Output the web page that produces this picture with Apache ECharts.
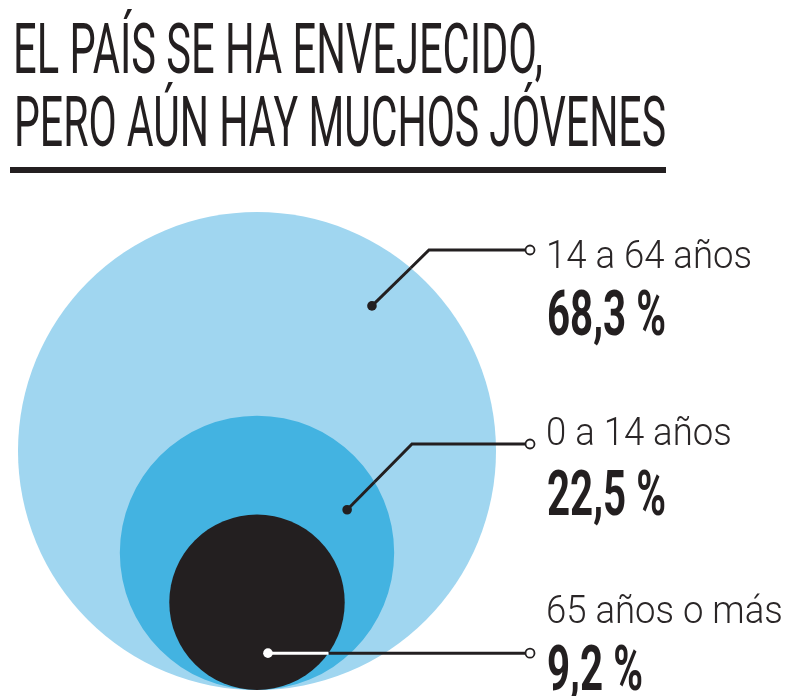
<!DOCTYPE html>
<html>
<head>
<meta charset="utf-8">
<script src="https://cdn.jsdelivr.net/npm/echarts@6/dist/echarts.min.js"></script>
<style>
  html, body { margin: 0; padding: 0; background: #ffffff; }
  #chart { width: 795px; height: 696px; }
</style>
</head>
<body>
<div id="chart"></div>
<script>
// Population share by age group (percent). Circle areas are proportional to the share.
const categories = ['14 a 64 años', '0 a 14 años', '65 años o más'];
const shares = [68.3, 22.5, 9.2];
const titleLines = ['EL PAÍS SE HA ENVEJECIDO,', 'PERO AÚN HAY MUCHOS JÓVENES'];

// ---- styling / layout ----
const INK = '#231f20';
const fills = ['#a0d6f0', '#43b3e1', '#231f20'];
const leaderInner = [INK, INK, '#ffffff'];   // leader colour inside its own circle
const PX_PER_UNIT = 28.92;                   // pixels per sqrt-percent unit
const CENTER_X = 257, BASE_Y = 690;          // circles share a common bottom
const HALF_SPAN = 8.5;
// dot position inside each circle, as a fraction of its radius (x right, y up)
const dotFrac = [[0.481, 0.607], [0.657, 0.314], [0.125, -0.58]];
const elbows = [[429, 250], [412, 444], null];
const LEADER_END_X = 530;
const LABEL_X = 546;
const nameBaseline = [268, 445, 623];
const valueBaseline = [335, 515, 690];

const formatShare = v => v.toFixed(1).replace('.', ',') + ' %';

// text measuring helpers
const mctx = document.createElement('canvas').getContext('2d');
function textWidth(t, font) { mctx.font = font; return mctx.measureText(t).width; }
function midToBaseline(font) {
  mctx.font = font;
  mctx.textBaseline = 'alphabetic';
  const a = mctx.measureText('H').actualBoundingBoxAscent;
  mctx.textBaseline = 'middle';
  const b = mctx.measureText('H').actualBoundingBoxAscent;
  mctx.textBaseline = 'alphabetic';
  return a - b;
}
function textEl(text, font, size, x, baseline, scaleX, fill) {
  return {
    type: 'text', x: x, y: baseline - midToBaseline(font), scaleX: scaleX,
    style: { text: text, font: font, fill: fill, align: 'left', verticalAlign: 'middle', lineHeight: size }
  };
}

// fonts
const TITLE_SIZE = 70;
const TITLE_FONT = '400 ' + TITLE_SIZE + 'px Roboto';
const NAME_SIZE = 39;
const NAME_FONT = '300 ' + NAME_SIZE + 'px Roboto';
const VALUE_SIZE = 63;
const VALUE_FONT = '700 ' + VALUE_SIZE + 'px Roboto';
// [left, baseline, width] of each title line
const titleTargets = [[13, 73, 530], [14, 146, 652]];
const nameScale = 206 / textWidth(categories[0], NAME_FONT);
const valueScale = 119 / textWidth(formatShare(shares[0]), VALUE_FONT);

function splitAtCircle(pts, cx, cy, r) {
  for (let i = 0; i < pts.length - 1; i++) {
    const p0 = pts[i], p1 = pts[i + 1];
    const d0 = Math.hypot(p0[0] - cx, p0[1] - cy), d1 = Math.hypot(p1[0] - cx, p1[1] - cy);
    if (d0 <= r && d1 > r) {
      const dx = p1[0] - p0[0], dy = p1[1] - p0[1];
      const fx = p0[0] - cx, fy = p0[1] - cy;
      const A = dx * dx + dy * dy, B = 2 * (fx * dx + fy * dy), C = fx * fx + fy * fy - r * r;
      const t = (-B + Math.sqrt(B * B - 4 * A * C)) / (2 * A);
      const q = [p0[0] + t * dx, p0[1] + t * dy];
      return [pts.slice(0, i + 1).concat([q]), [q].concat(pts.slice(i + 1))];
    }
  }
  return [pts, []];
}

const chart = echarts.init(document.getElementById('chart'), null, { renderer: 'canvas' });
const seriesData = shares.map((v, i) => [i, v]);

const option = {
  animation: false,
  backgroundColor: '#ffffff',
  grid: {
    left: CENTER_X - HALF_SPAN * PX_PER_UNIT,
    width: 2 * HALF_SPAN * PX_PER_UNIT,
    top: BASE_Y - 2 * HALF_SPAN * PX_PER_UNIT,
    height: 2 * HALF_SPAN * PX_PER_UNIT
  },
  xAxis: { type: 'value', min: -HALF_SPAN, max: HALF_SPAN, show: false },
  yAxis: { type: 'value', min: 0, max: 2 * HALF_SPAN, show: false },
  graphic: [
    ...titleLines.map((t, i) => {
      const [x, base, w] = titleTargets[i];
      return textEl(t, TITLE_FONT, TITLE_SIZE, x, base, w / textWidth(t, TITLE_FONT), INK);
    }),
    { type: 'rect', shape: { x: 10, y: 167, width: 656, height: 6 }, style: { fill: INK } }
  ],
  series: [
    {
      // nested circles, largest first
      type: 'custom',
      clip: false,
      z: 2,
      data: seriesData,
      renderItem: function (params, api) {
        const rd = Math.sqrt(api.value(1));
        const c = api.coord([0, rd]);
        const r = api.size([rd, rd])[0];
        return { type: 'circle', shape: { cx: c[0], cy: c[1], r: r }, style: { fill: fills[params.dataIndex] } };
      }
    },
    {
      // leader lines and labels
      type: 'custom',
      clip: false,
      z: 3,
      data: seriesData,
      renderItem: function (params, api) {
        const i = params.dataIndex;
        const v = api.value(1);
        const rd = Math.sqrt(v);
        const c = api.coord([0, rd]);
        const r = api.size([rd, rd])[0];
        const dot = api.coord([dotFrac[i][0] * rd, rd + dotFrac[i][1] * rd]);
        const pts = [dot];
        if (elbows[i]) pts.push(elbows[i]);
        const endY = elbows[i] ? elbows[i][1] : dot[1];
        pts.push([LEADER_END_X, endY]);
        const parts = splitAtCircle(pts, c[0], c[1], r);
        const children = [];
        if (parts[1].length) {
          children.push({ type: 'polyline', shape: { points: parts[1] }, style: { stroke: INK, lineWidth: 3, fill: null, lineJoin: 'miter' } });
        }
        children.push({ type: 'polyline', shape: { points: parts[0] }, style: { stroke: leaderInner[i], lineWidth: 3, fill: null, lineJoin: 'miter' } });
        children.push({ type: 'circle', shape: { cx: dot[0], cy: dot[1], r: 4.8 }, style: { fill: leaderInner[i] } });
        children.push({ type: 'circle', shape: { cx: LEADER_END_X, cy: endY, r: 4.5 }, style: { fill: '#ffffff', stroke: INK, lineWidth: 1.8 } });
        children.push(textEl(categories[i], NAME_FONT, NAME_SIZE, LABEL_X, nameBaseline[i], nameScale, '#2a2627'));
        children.push(textEl(formatShare(v), VALUE_FONT, VALUE_SIZE, LABEL_X + 1, valueBaseline[i], valueScale, INK));
        return { type: 'group', children: children };
      }
    }
  ]
};
chart.setOption(option);
</script>
</body>
</html>
